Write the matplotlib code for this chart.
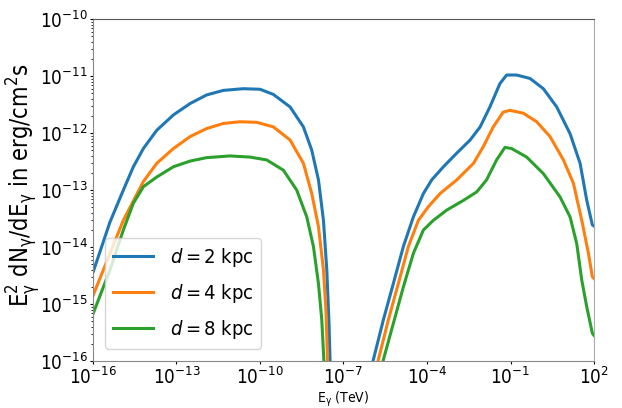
import numpy as np
import matplotlib
matplotlib.use("Agg")
import matplotlib.pyplot as plt

plt.rcParams['font.family'] = 'DejaVu Sans'
plt.rcParams['font.stretch'] = 'condensed'
plt.rcParams['mathtext.fontset'] = 'custom'
plt.rcParams['mathtext.rm'] = 'DejaVu Sans:stretch=condensed'
plt.rcParams['mathtext.it'] = 'DejaVu Sans:italic:stretch=condensed'
plt.rcParams['mathtext.bf'] = 'DejaVu Sans:bold:stretch=condensed'

# log10(E / TeV) and log10(E^2 dN/dE) -- low-energy hump
lx_low_2 = [-15.99, -15.39, -14.91, -14.55, -14.19, -13.71, -13.11, -12.51, -11.92, -11.32, -10.60, -10.00, -9.52, -8.92, -8.44, -8.14, -7.90, -7.72, -7.60, -7.52, -7.48]
ly_low_2 = [-14.43, -13.56, -13.00, -12.59, -12.27, -11.95, -11.68, -11.48, -11.33, -11.25, -11.22, -11.23, -11.32, -11.54, -11.89, -12.30, -12.82, -13.53, -14.40, -15.34, -16.04]
lx_low_4 = [-15.99, -14.91, -14.19, -13.71, -13.11, -12.51, -11.92, -11.32, -10.72, -10.12, -9.52, -8.92, -8.44, -8.14, -7.90, -7.72, -7.63, -7.57]
ly_low_4 = [-14.84, -13.53, -12.85, -12.53, -12.27, -12.06, -11.92, -11.83, -11.80, -11.81, -11.89, -12.12, -12.53, -13.06, -13.64, -14.40, -15.11, -16.04]
lx_low_8 = [-15.99, -15.39, -14.91, -14.55, -14.19, -13.71, -13.11, -12.51, -11.92, -11.08, -10.36, -9.76, -9.16, -8.68, -8.32, -8.08, -7.90, -7.78, -7.70]
ly_low_8 = [-15.16, -14.40, -13.70, -13.23, -12.94, -12.77, -12.59, -12.49, -12.43, -12.40, -12.42, -12.47, -12.65, -13.00, -13.47, -13.99, -14.64, -15.28, -16.04]

# high-energy hump
lx_high_2 = [-5.93, -5.57, -5.21, -4.85, -4.49, -4.13, -3.83, -3.41, -2.93, -2.45, -2.09, -1.74, -1.38, -1.14, -0.78, -0.30, 0.18, 0.66, 1.14, 1.50, 1.74, 1.94, 2.0]
ly_high_2 = [-15.98, -15.28, -14.64, -13.99, -13.47, -13.06, -12.82, -12.59, -12.35, -12.12, -11.89, -11.54, -11.13, -10.98, -10.98, -11.04, -11.22, -11.54, -12.01, -12.53, -13.18, -13.61, -13.63]
lx_high_4 = [-5.75, -5.39, -5.03, -4.67, -4.31, -3.95, -3.53, -2.93, -2.33, -1.97, -1.62, -1.26, -1.02, -0.54, -0.06, 0.42, 0.90, 1.26, 1.56, 1.80, 1.94, 2.0]
ly_high_4 = [-15.98, -15.28, -14.64, -13.99, -13.53, -13.29, -13.06, -12.82, -12.53, -12.23, -11.89, -11.63, -11.60, -11.65, -11.80, -12.06, -12.47, -12.88, -13.53, -14.11, -14.52, -14.55]
lx_high_8 = [-5.57, -5.21, -4.85, -4.49, -4.13, -3.77, -3.29, -2.69, -2.21, -1.86, -1.50, -1.20, -0.96, -0.42, 0.18, 0.78, 1.14, 1.38, 1.56, 1.74, 1.94, 2.0]
ly_high_8 = [-15.98, -15.34, -14.70, -14.11, -13.70, -13.53, -13.35, -13.18, -13.03, -12.82, -12.47, -12.25, -12.27, -12.42, -12.71, -13.12, -13.47, -13.94, -14.58, -15.05, -15.51, -15.55]

labels = [r'$d=2$ kpc', r'$d=4$ kpc', r'$d=8$ kpc']
colors = ['#1f77b4', '#ff7f0e', '#2ca02c']

low = [(lx_low_2, ly_low_2), (lx_low_4, ly_low_4), (lx_low_8, ly_low_8)]
high = [(lx_high_2, ly_high_2), (lx_high_4, ly_high_4), (lx_high_8, ly_high_8)]

fig = plt.figure(figsize=(6.22, 4.08), dpi=100)
ax = fig.add_axes([0.1495, 0.115, 0.8055, 0.838])

for (xl, yl), (xh, yh), lab, c in zip(low, high, labels, colors):
    x = np.concatenate([10**np.array(xl), [np.nan], 10**np.array(xh)])
    y = np.concatenate([10**np.array(yl), [np.nan], 10**np.array(yh)])
    ax.plot(x, y, color=c, lw=2.2, label=lab)

ax.set_xscale('log')
ax.set_yscale('log')
ax.set_xlim(1e-16, 1e2)
ax.set_ylim(1e-16, 1e-10)
ax.tick_params(labelsize=13.5, length=2.5, pad=1.5)
ax.tick_params(which='minor', length=1.5)

ax.set_ylabel(r'E$_\mathrm{\gamma}^2$ dN$_\mathrm{\gamma}$/dE$_\mathrm{\gamma}$ in erg/cm$^2$s', fontsize=17)
ax.yaxis.label.set_va('center')
ax.yaxis.set_label_coords(-0.138, 0.515)
ax.set_xlabel(r'E$_\mathrm{\gamma}$ (TeV)', fontsize=10, va='top')
ax.xaxis.set_label_coords(0.5, -0.085)

ax.spines['top'].set_color('#555555')
ax.spines['right'].set_color('#aaaaaa')
ax.spines['left'].set_color('#888888')
ax.spines['bottom'].set_color('#888888')
ax.legend(loc='lower left', fontsize=14.5, labelspacing=0.65, borderaxespad=0.6)

fig.savefig('out.png', dpi=100)
